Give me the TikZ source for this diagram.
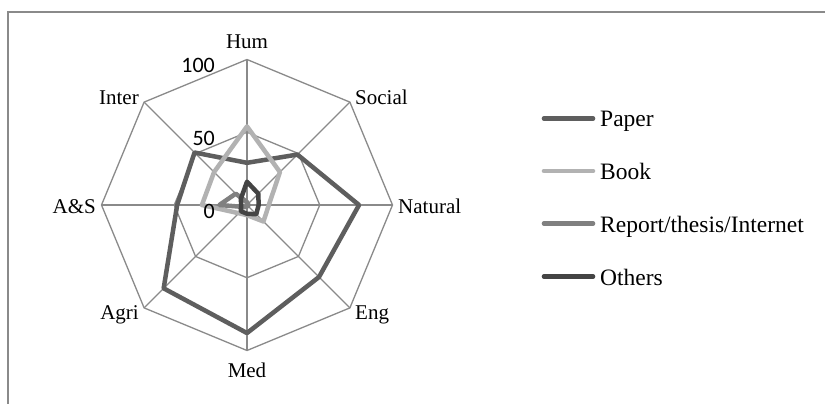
\documentclass[tikz,border=0pt]{standalone}
\usepackage{fontspec}
\setmainfont{Liberation Serif}
\newfontfamily\numfont{Carlito}
\definecolor{paperc}{HTML}{5E5E5E}
\definecolor{bookc}{HTML}{B2B2B2}
\definecolor{repc}{HTML}{808080}
\definecolor{othc}{HTML}{444444}
\definecolor{gridc}{HTML}{8A8A8A}
\definecolor{framec}{HTML}{8A8A8A}
\begin{document}
\begin{tikzpicture}[x=1pt,y=-1pt,
  gridline/.style={draw=gridc,line width=1.3pt},
  series/.style={line width=4.5pt,line join=round},
  axlab/.style={font=\fontsize{21}{25}\selectfont,inner sep=0pt},
  numlab/.style={font=\numfont\fontsize{22}{26}\selectfont,inner sep=0pt,anchor=base east},
  leglab/.style={font=\fontsize{23.5}{28}\selectfont,inner sep=0pt,anchor=base west},
  legline/.style={line width=4.6pt,line cap=round}]
\useasboundingbox (0,0) rectangle (825,404);
\fill[white] (0,0) rectangle (825,404);
% frame
\draw[framec,line width=1.5pt] (8,404) -- (8,12) -- (825,12);
% radar
\def\R{1.455}
\begin{scope}[shift={(247,205)},yscale=-1]
  \coordinate (c) at (0,0);
  \foreach \a in {90,45,0,-45,-90,-135,180,135}
    \draw[gridline] (c) -- (\a:100*\R);
  \foreach \r in {50,100}
    \draw[gridline,line join=miter] (90:\r*\R) -- (45:\r*\R) -- (0:\r*\R) -- (-45:\r*\R) -- (-90:\r*\R) -- (-135:\r*\R) -- (180:\r*\R) -- (135:\r*\R) -- cycle;
  % Paper
  \draw[series,paperc] (90:29*\R) -- (45:49*\R) -- (0:77*\R) -- (-45:70*\R) -- (-90:88*\R) -- (-135:81*\R) -- (180:48*\R) -- (135:51*\R) -- cycle;
  % Book
  \draw[series,bookc] (90:54*\R) -- (45:32*\R) -- (0:15*\R) -- (-45:16*\R) -- (-90:7*\R) -- (-135:8*\R) -- (180:31*\R) -- (135:32*\R) -- cycle;
  % Report/thesis/Internet
  \draw[series,repc] (90:2*\R) -- (45:1*\R) -- (0:1*\R) -- (-45:1*\R) -- (-90:1*\R) -- (-135:2*\R) -- (180:19*\R) -- (135:11*\R) -- cycle;
  % Others
  \draw[series,othc] (90:16*\R) -- (45:11*\R) -- (0:8*\R) -- (-45:9*\R) -- (-90:6*\R) -- (-135:6*\R) -- (180:4*\R) -- (135:6*\R) -- cycle;
\end{scope}
% axis labels
\node[axlab,anchor=base] (hum) at (247,48.5) {Hum};
\node[axlab,anchor=base west] (soc) at (355,104) {Social};
\node[axlab,anchor=base west] (nat) at (398,213) {Natural};
\node[axlab,anchor=base west] (eng) at (355,319.5) {Eng};
\node[axlab,anchor=base] (med) at (247,377) {Med};
\node[axlab,anchor=base east] (agri) at (139,319.5) {Agri};
\node[axlab,anchor=base east] (as) at (96,213) {A\&S};
\node[axlab,anchor=base east] (inter) at (139,104) {Inter};
% value labels
\node[numlab] (n100) at (215,72.7) {100};
\node[numlab] (n50) at (215,145) {50};
\node[numlab] (n0) at (215,218.3) {0};
% legend
\node[leglab] (lpaper) at (600,126.8) {Paper};
\node[leglab] (lbook) at (600,179.5) {Book};
\node[leglab] (lrep) at (600,232) {Report/thesis/Internet};
\node[leglab] (loth) at (600,285) {Others};
\draw[legline,paperc] (544,118.5) -- (593,118.5);
\draw[legline,bookc] (544,171) -- (593,171);
\draw[legline,repc] (544,223.5) -- (593,223.5);
\draw[legline,othc] (544,276.5) -- (593,276.5);
\end{tikzpicture}
\end{document}
